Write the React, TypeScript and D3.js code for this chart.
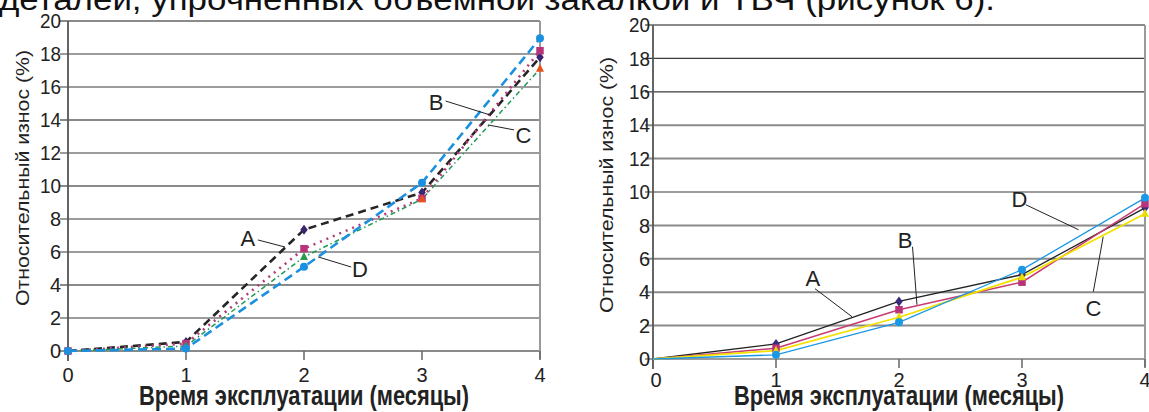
import React from 'react'
import { scaleLinear, line } from 'd3'

const months = [0, 1, 2, 3, 4]
const yTicks = [0, 2, 4, 6, 8, 10, 12, 14, 16, 18, 20]
const names = ['A', 'B', 'C', 'D']

// left chart (dashed lines)
const leftA = [0, 0.55, 7.35, 9.6, 17.8]
const leftB = [0, 0.45, 6.2, 9.25, 18.2]
const leftC = [0, 0.3, 5.7, 9.2, 17.1]
const leftD = [0, 0.15, 5.1, 10.2, 18.95]

// right chart (solid lines)
const rightA = [0, 0.9, 3.45, 5.05, 9.05]
const rightB = [0, 0.65, 2.95, 4.6, 9.3]
const rightC = [0, 0.5, 2.5, 4.9, 8.7]
const rightD = [0, 0.25, 2.2, 5.35, 9.65]

const caption = 'деталей, упрочненных объемной закалкой и ТВЧ (рисунок 6).'
const xTitle = 'Время эксплуатации (месяцы)'
const yTitle = 'Относительный износ (%)'

// annotation: label, text pos, leader from, leader to (data units)
const leftNotes = [
  ['A', 1.525, 6.85, 1.61, 6.73, 1.84, 6.3],
  ['D', 2.475, 4.97, 2.4, 5.09, 2.12, 5.7],
  ['B', 3.12, 15.1, 3.2, 15.15, 3.58, 14.3],
  ['C', 3.86, 13.1, 3.78, 13.4, 3.56, 13.7],
]
const rightNotes = [
  ['A', 1.3, 4.87, 1.317, 4.21, 1.618, 2.53],
  ['B', 2.05, 7.14, 2.11, 6.72, 2.146, 3.25],
  ['D', 2.98, 9.6, 3.03, 9.24, 3.46, 7.74],
  ['C', 3.58, 3.07, 3.58, 4.03, 3.66, 7.32],
]

const leftStyles = [
  { stroke: '#262626', width: 2.6, dash: '8,5', shape: 'diamond', fill: ['#3b2470'] },
  { stroke: '#b53a78', width: 2.6, dash: '2,5', shape: 'square', fill: ['#b8347a'] },
  { stroke: '#1f9a55', width: 1.5, dash: '5,3,1.5,3', shape: 'triangle', fill: ['#e8581c', '#2a9a50', '#2a9a50', '#e8501a', '#e8501a'] },
  { stroke: '#1a90e0', width: 2.6, dash: '9,5', shape: 'circle', fill: ['#1a90e0'] },
]
const rightStyles = [
  { stroke: '#222', width: 1.3, dash: null, shape: 'diamond', fill: ['#3c2a7a'] },
  { stroke: '#c83a72', width: 1.5, dash: null, shape: 'square', fill: ['#b8347a'] },
  { stroke: '#f2e200', width: 1.8, dash: null, shape: 'triangle', fill: ['#e8dc00'] },
  { stroke: '#1a98e6', width: 1.3, dash: null, shape: 'circle', fill: ['#1a98e6'] },
]

const FONT = '"Liberation Sans", Arial, sans-serif'

function Marker({ shape, x, y, color, s }) {
  if (shape === 'diamond') {
    return <path d={`M${x},${y - s}L${x + s * 0.75},${y}L${x},${y + s}L${x - s * 0.75},${y}Z`} fill={color} />
  }
  if (shape === 'square') {
    return <rect x={x - s * 0.75} y={y - s * 0.75} width={s * 1.5} height={s * 1.5} fill={color} />
  }
  if (shape === 'triangle') {
    return <path d={`M${x},${y - s}L${x + s * 0.8},${y + s * 0.6}L${x - s * 0.8},${y + s * 0.6}Z`} fill={color} />
  }
  return <circle cx={x} cy={y} r={s * 0.8} fill={color} />
}

function Chart({ left, right, top, bottom, series, styles, notes, grayLines, labelEnd, tickBase, yTitleX, yTitleY, zeroMarkers, mSize, zeroLabelDx }) {
  const x = scaleLinear().domain([0, 4]).range([left, right])
  const y = scaleLinear().domain([0, 20]).range([bottom, top])
  const gen = line<number>().x((d, i) => x(months[i])).y(d => y(d))

  return (
    <g>
      {yTicks.map(t => (
        <g key={t}>
          <line
            x1={left - 8} x2={right} y1={y(t)} y2={y(t)}
            stroke={grayLines.includes(t) ? '#8a8a8a' : '#3a3a3a'}
            strokeWidth={grayLines.includes(t) ? 2 : 1.2}
          />
          <text x={labelEnd} y={y(t)} dy="0.36em" textAnchor="end" fontSize={20} fill="#222" fontFamily={FONT}
            textLength={t >= 10 ? 21 : undefined} lengthAdjust="spacingAndGlyphs">{t}</text>
        </g>
      ))}
      <line x1={left} x2={left} y1={top} y2={bottom + 10} stroke="#555" strokeWidth={1.8} />
      <line x1={right} x2={right} y1={top} y2={bottom + 8} stroke="#9a9a9a" strokeWidth={2} />
      {months.map(m => (
        <g key={m}>
          <line x1={x(m)} x2={x(m)} y1={bottom} y2={bottom + 9} stroke="#666" strokeWidth={1.5} />
          <text x={x(m) + (m === 0 ? zeroLabelDx : 0)} y={tickBase} textAnchor="middle" fontSize={20} fill="#222" fontFamily={FONT}>{m}</text>
        </g>
      ))}
      {series.map((vals, si) => {
        const st = styles[si]
        return (
          <g key={names[si]}>
            <path d={gen(vals) || ''} fill="none" stroke={st.stroke} strokeWidth={st.width}
              strokeDasharray={st.dash || undefined} />
          </g>
        )
      })}
      {series.map((vals, si) => {
        const st = styles[si]
        return (
          <g key={'m' + names[si]}>
            {vals.map((v, i) => (i === 0 && !zeroMarkers) ? null : (
              <Marker key={i} shape={st.shape} x={x(months[i])} y={y(v)}
                color={st.fill[i] || st.fill[0]} s={mSize} />
            ))}
          </g>
        )
      })}
      {notes.map(n => (
        <g key={n[0]}>
          <line x1={x(n[3])} y1={y(n[4])} x2={x(n[5])} y2={y(n[6])} stroke="#222" strokeWidth={1} />
          <text x={x(n[1])} y={y(n[2])} dy="0.36em" textAnchor="middle" fontSize={22} fill="#222" fontFamily={FONT}>{n[0]}</text>
        </g>
      ))}
      <text x={(left + right) / 2} y={405} textAnchor="middle" fontSize={27} fontWeight="bold" fill="#222"
        fontFamily={FONT} textLength={330} lengthAdjust="spacingAndGlyphs">{xTitle}</text>
      <text transform={`translate(${yTitleX},${yTitleY}) rotate(-90)`} textAnchor="middle" fontSize={19} fill="#222"
        fontFamily={FONT} textLength={256} lengthAdjust="spacingAndGlyphs">{yTitle}</text>
    </g>
  )
}

export default function App() {
  return (
    <svg width={1149} height={412} style={{ position: 'absolute', left: 0, top: 0, background: '#fff' }}>
      <rect width={1149} height={412} fill="#fff" />
      <text x={-1} y={10} fontSize={32} fill="#111" fontFamily={FONT} textLength={996} lengthAdjust="spacingAndGlyphs">{caption}</text>
      <Chart left={68} right={540} top={21} bottom={351} series={[leftA, leftB, leftC, leftD]} styles={leftStyles}
        notes={leftNotes} grayLines={[20, 14, 10, 4, 0]} labelEnd={61} tickBase={382} yTitleX={29} yTitleY={178}
        zeroMarkers={true} mSize={5} zeroLabelDx={0} />
      <Chart left={653} right={1145} top={25} bottom={359} series={[rightA, rightB, rightC, rightD]} styles={rightStyles}
        notes={rightNotes} grayLines={[20, 14, 12, 8, 6, 4, 2]} labelEnd={650} tickBase={387} yTitleX={613} yTitleY={185}
        zeroMarkers={false} mSize={5} zeroLabelDx={3} />
    </svg>
  )
}
